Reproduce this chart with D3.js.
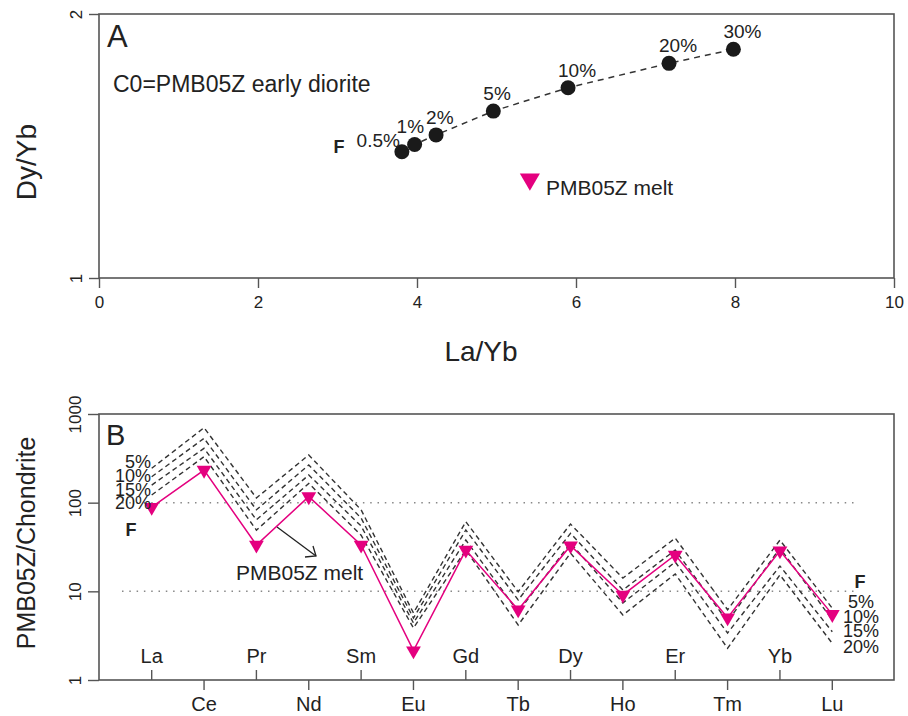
<!DOCTYPE html>
<html><head><meta charset="utf-8">
<script src="https://cdn.jsdelivr.net/npm/d3@7/dist/d3.min.js"></script>
<style>body{margin:0;background:#fff}text{font-family:"Liberation Sans",Arial,sans-serif;fill:#222}</style>
</head><body><svg id="c" width="908" height="716"></svg>
<script>
// ---- Panel A data ----
const fLabels = ["0.5%","1%","2%","5%","10%","20%","30%"];
const laYb = [3.81,3.97,4.24,4.96,5.90,7.17,7.98];
const dyYb = [1.393,1.420,1.456,1.550,1.648,1.757,1.823];
const meltLaYb = [5.42];
const meltDyYb = [1.296];
const xTicksA = [0,2,4,6,8,10];
const yTicksA = [1,2];
// ---- Panel B data ----
const elements = ["La","Ce","Pr","Nd","Sm","Eu","Gd","Tb","Dy","Ho","Er","Tm","Yb","Lu"];
const meltREE = [89,233,33.3,117,33.3,2.14,29.2,6.2,32.7,9.1,25.7,5.04,28.7,5.5];
const modelF = ["5%","10%","15%","20%"];
const modelF5  = [244,700,113,345,83,5.7,61,9.9,57.4,14.1,39.8,6.2,37.8,6.44];
const modelF10 = [196,532,83,266,67,5.0,49.2,8.0,45.1,10.35,29.2,4.55,30.8,4.75];
const modelF15 = [158,410,64,205,54.5,4.4,37.9,5.85,35,7.4,21.4,3.39,19.3,3.5];
const modelF20 = [122,330,49,165,43,3.86,29.3,4.17,27,5.4,15.7,2.28,15.3,2.59];
const yTicksB = [1,10,100,1000];
const gridB = [10,100];

const svg = d3.select("#c");
const PINK = "#e4007f", FRAME = "#555";

// ================= Panel A =================
const xA = d3.scaleLinear([0,10],[99,894]);
const yA = d3.scaleLog([1,2],[278,14]);
const gA = svg.append("g");
gA.append("rect").attr("x",xA(0)).attr("y",yA(2)).attr("width",xA(10)-xA(0)).attr("height",yA(1)-yA(2))
  .attr("fill","none").attr("stroke",FRAME).attr("stroke-width",1.6);
const axA = gA.append("g").attr("transform",`translate(0,${yA(1)})`)
  .call(d3.axisBottom(xA).tickValues(xTicksA).tickSize(10).tickPadding(8).tickFormat(d3.format("d")));
axA.select(".domain").remove();
axA.selectAll("line").attr("stroke",FRAME).attr("stroke-width",1.4);
axA.selectAll("text").attr("font-size",17).attr("fill","#222").attr("font-family","Liberation Sans, Arial");
const ayA = gA.append("g").attr("transform",`translate(${xA(0)},0)`)
  .call(d3.axisLeft(yA).tickValues(yTicksA).tickSize(10).tickFormat(d3.format("d")));
ayA.select(".domain").remove();
ayA.selectAll("line").attr("stroke",FRAME).attr("stroke-width",1.4);
ayA.selectAll("text").attr("transform","rotate(-90)").attr("x",0).attr("y",-17).attr("dy",0)
  .attr("text-anchor","middle").attr("font-size",17).attr("fill","#222").attr("font-family","Liberation Sans, Arial");

gA.append("text").attr("x",107).attr("y",47).attr("font-size",31).text("A");
gA.append("text").attr("x",113).attr("y",92).attr("font-size",23).text("C0=PMB05Z early diorite");
gA.append("text").attr("transform","translate(36,162) rotate(-90)").attr("text-anchor","middle").attr("font-size",28).text("Dy/Yb");
gA.append("text").attr("x",481).attr("y",361).attr("text-anchor","middle").attr("font-size",28).text("La/Yb");

const ptsA = laYb.map((v,i)=>({x:v,y:dyYb[i],l:fLabels[i]}));
gA.append("path").datum(ptsA).attr("fill","none").attr("stroke","#333").attr("stroke-width",1.5)
  .attr("stroke-dasharray","6,5").attr("d",d3.line().x(d=>xA(d.x)).y(d=>yA(d.y)));
gA.selectAll("circle.p").data(ptsA).join("circle").attr("cx",d=>xA(d.x)).attr("cy",d=>yA(d.y)).attr("r",7.5).attr("fill","#1a1a1a");
gA.selectAll("text.pl").data(ptsA).join("text").attr("font-size",19)
  .attr("x",(d,i)=> i===0 ? xA(d.x)-2 : i===1 ? xA(d.x)-18 : xA(d.x)-10)
  .attr("y",(d,i)=> i===0 ? yA(d.y)-5 : yA(d.y)-11)
  .attr("text-anchor",(d,i)=> i===0 ? "end" : "start").text(d=>d.l);
gA.append("text").attr("x",339).attr("y",153).attr("text-anchor","middle").attr("font-size",18).attr("font-weight","bold").text("F");
const triA = d3.symbol(d3.symbolTriangle, 175);
gA.selectAll("path.m").data(meltLaYb.map((v,i)=>({x:v,y:meltDyYb[i]}))).join("path")
  .attr("d",triA).attr("fill",PINK).attr("transform",d=>`translate(${xA(d.x)},${yA(d.y)}) rotate(180)`);
gA.append("text").attr("x",546).attr("y",195).attr("font-size",21).text("PMB05Z melt");

// ================= Panel B =================
const xB = d3.scalePoint(elements,[151.7,832.3]);
const yB = d3.scaleLog([1,1000],[680,414]);
const gB = svg.append("g");
gB.append("rect").attr("x",99).attr("y",yB(1000)).attr("width",894-99).attr("height",yB(1)-yB(1000))
  .attr("fill","none").attr("stroke",FRAME).attr("stroke-width",1.6);
gB.selectAll("line.grid").data(gridB).join("line").attr("x1",122).attr("x2",857)
  .attr("y1",d=>yB(d)).attr("y2",d=>yB(d)).attr("stroke","#888").attr("stroke-width",1.5).attr("stroke-dasharray","1.5,5.8");
const ayB = gB.append("g").attr("transform","translate(99,0)")
  .call(d3.axisLeft(yB).tickValues(yTicksB).tickSize(11).tickFormat(d3.format("d")));
ayB.select(".domain").remove();
ayB.selectAll("line").attr("stroke",FRAME).attr("stroke-width",1.4);
ayB.selectAll("text").attr("transform","rotate(-90)").attr("x",0).attr("y",-18).attr("dy",0)
  .attr("text-anchor","middle").attr("font-size",17).attr("fill","#222").attr("font-family","Liberation Sans, Arial");

// element ticks alternating up/down
const tk = gB.selectAll("g.el").data(elements).join("g").attr("transform",d=>`translate(${xB(d)},${yB(1)})`);
tk.append("line").attr("y1",0).attr("y2",(d,i)=> i%2===0 ? -10 : 10).attr("stroke",FRAME).attr("stroke-width",1.4);
tk.append("text").attr("text-anchor","middle").attr("font-size",20).attr("y",(d,i)=> i%2===0 ? -17 : 31).text(d=>d);

gB.append("text").attr("x",106).attr("y",445).attr("font-size",29).text("B");
gB.append("text").attr("transform","translate(35,543) rotate(-90)").attr("text-anchor","middle").attr("font-size",25).text("PMB05Z/Chondrite");

const models = [modelF5,modelF10,modelF15,modelF20];
const lineB = d3.line().x((d,i)=>xB(elements[i])).y(d=>yB(d));
gB.selectAll("path.model").data(models).join("path").attr("fill","none").attr("stroke","#333")
  .attr("stroke-width",1.4).attr("stroke-dasharray","5,3.5").attr("d",lineB);
gB.append("path").datum(meltREE).attr("fill","none").attr("stroke",PINK).attr("stroke-width",1.5).attr("d",lineB);
const triB = d3.symbol(d3.symbolTriangle, 95);
gB.selectAll("path.mt").data(meltREE).join("path").attr("d",triB).attr("fill",PINK)
  .attr("transform",(d,i)=>`translate(${xB(elements[i])},${yB(d)}) rotate(180)`);

// F labels left
const leftY = [468,482,496,509];
gB.selectAll("text.lf").data(modelF).join("text").attr("x",151).attr("y",(d,i)=>leftY[i])
  .attr("text-anchor","end").attr("font-size",18).text(d=>d);
gB.append("text").attr("x",131).attr("y",536).attr("text-anchor","middle").attr("font-size",18).attr("font-weight","bold").text("F");
// F labels right
const rightY = [608,623,637,653];
gB.selectAll("text.rf").data(modelF).join("text").attr("x",861).attr("y",(d,i)=>rightY[i])
  .attr("text-anchor","middle").attr("font-size",18).text(d=>d);
gB.append("text").attr("x",860).attr("y",588).attr("text-anchor","middle").attr("font-size",18).attr("font-weight","bold").text("F");

// arrow + label
gB.append("line").attr("x1",277).attr("y1",527).attr("x2",316).attr("y2",556).attr("stroke","#222").attr("stroke-width",1.3);
gB.append("path").attr("d","M305,557 L316,556 L313,546").attr("fill","none").attr("stroke","#222").attr("stroke-width",1.3);
gB.append("text").attr("x",236).attr("y",580).attr("font-size",21).text("PMB05Z melt");
</script></body></html>
